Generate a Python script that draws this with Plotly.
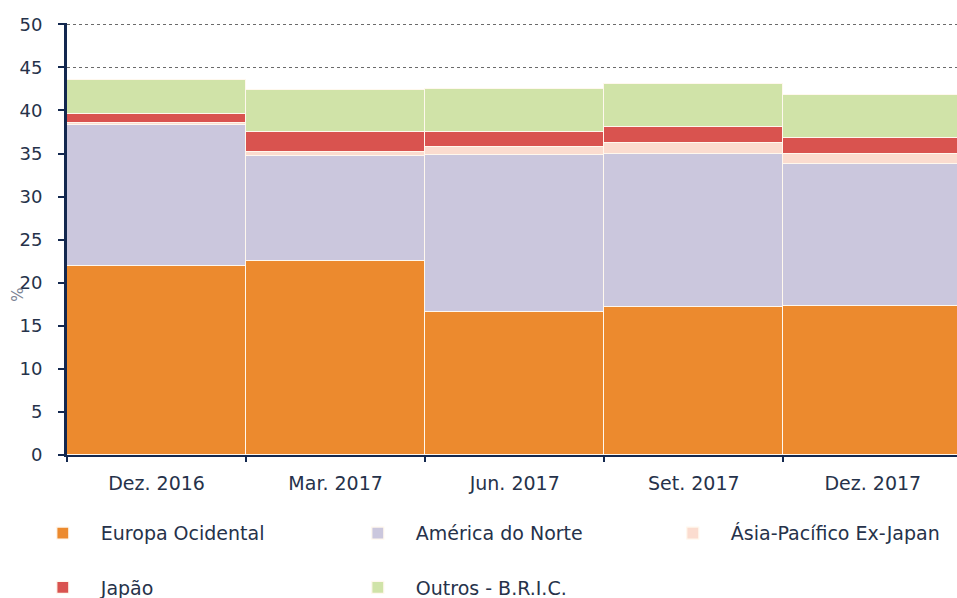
import plotly.graph_objects as go

# ── Data ──────────────────────────────────────────────────────────────────────
periods = ["Dez. 2016", "Mar. 2017", "Jun. 2017", "Set. 2017", "Dez. 2017"]

europa_ocidental = [21.9, 22.5, 16.6, 17.2, 17.3]
america_norte    = [16.4, 12.2, 18.2, 17.8, 16.5]
asia_pacifico    = [0.2, 0.5, 1.0, 1.2, 1.1]
japao            = [1.1, 2.3, 1.7, 1.9, 1.9]
outros_bric      = [3.9, 4.9, 5.0, 5.0, 5.0]

y_ticks = [0, 5, 10, 15, 20, 25, 30, 35, 40, 45, 50]

# ── Style ─────────────────────────────────────────────────────────────────────
_FONT  = "DejaVu Sans, Verdana, sans-serif"
_TEXT  = "#26324a"
_AXIS  = "#13284f"

series = [
    ("Europa Ocidental",        europa_ocidental, "#ec8a2e", "legend"),
    ("América do Norte",        america_norte,    "#cbc7dd", "legend"),
    ("Ásia-Pacífico Ex-Japan",  asia_pacifico,    "#fbdccf", "legend"),
    ("Japão",                   japao,            "#d9534f", "legend2"),
    ("Outros - B.R.I.C.",       outros_bric,      "#d0e3a8", "legend2"),
]

fig = go.Figure()
for name, values, color, leg in series:
    fig.add_trace(go.Bar(
        x=periods,
        y=values,
        name=name,
        marker=dict(color=color, line=dict(color="#fff8ee", width=1.2)),
        legend=leg,
    ))

legend_common = dict(
    orientation="h",
    xanchor="left",
    yanchor="top",
    font=dict(family=_FONT, size=19, color=_TEXT),
    itemwidth=66,
    entrywidth=234,
    bgcolor="rgba(0,0,0,0)",
    traceorder="normal",
)

fig.update_layout(
    barmode="stack",
    bargap=0,
    width=957,
    height=598,
    paper_bgcolor="white",
    plot_bgcolor="white",
    font=dict(family=_FONT, size=18, color=_TEXT),
    margin=dict(l=67, r=0, t=23, b=143, autoexpand=False),
    showlegend=True,
    legend=dict(x=-0.0474, y=-0.137, **legend_common),
    legend2=dict(x=-0.0474, y=-0.263, **legend_common),
    xaxis=dict(
        range=[-0.5, 4.47],
        showline=True,
        linecolor=_AXIS,
        linewidth=2,
        ticks="outside",
        tickson="boundaries",
        ticklen=5,
        tickwidth=2,
        tickcolor=_AXIS,
        showgrid=False,
        ticklabelstandoff=10,
        tickfont=dict(family=_FONT, size=19, color=_TEXT),
    ),
    yaxis=dict(
        range=[0, 50.15],
        tickvals=y_ticks,
        showline=True,
        linecolor=_AXIS,
        linewidth=3,
        ticks="outside",
        ticklen=6,
        tickwidth=2,
        tickcolor=_AXIS,
        showgrid=True,
        gridcolor="#6b6b6b",
        griddash="dot",
        gridwidth=1,
        zeroline=False,
        ticklabelstandoff=12,
        tickfont=dict(family=_FONT, size=18, color=_TEXT),
    ),
    annotations=[dict(
        text="%",
        x=-0.055, xref="paper", xanchor="center",
        y=18.6, yref="y",
        showarrow=False,
        textangle=-90,
        font=dict(family=_FONT, size=15, color="#7b8494"),
    )],
)

# drop the default 8px page margin so the figure sits at the window's corner
fig.write_html(
    "out.html",
    config={"displayModeBar": False},
    post_script="document.body.style.margin='0';",
)
